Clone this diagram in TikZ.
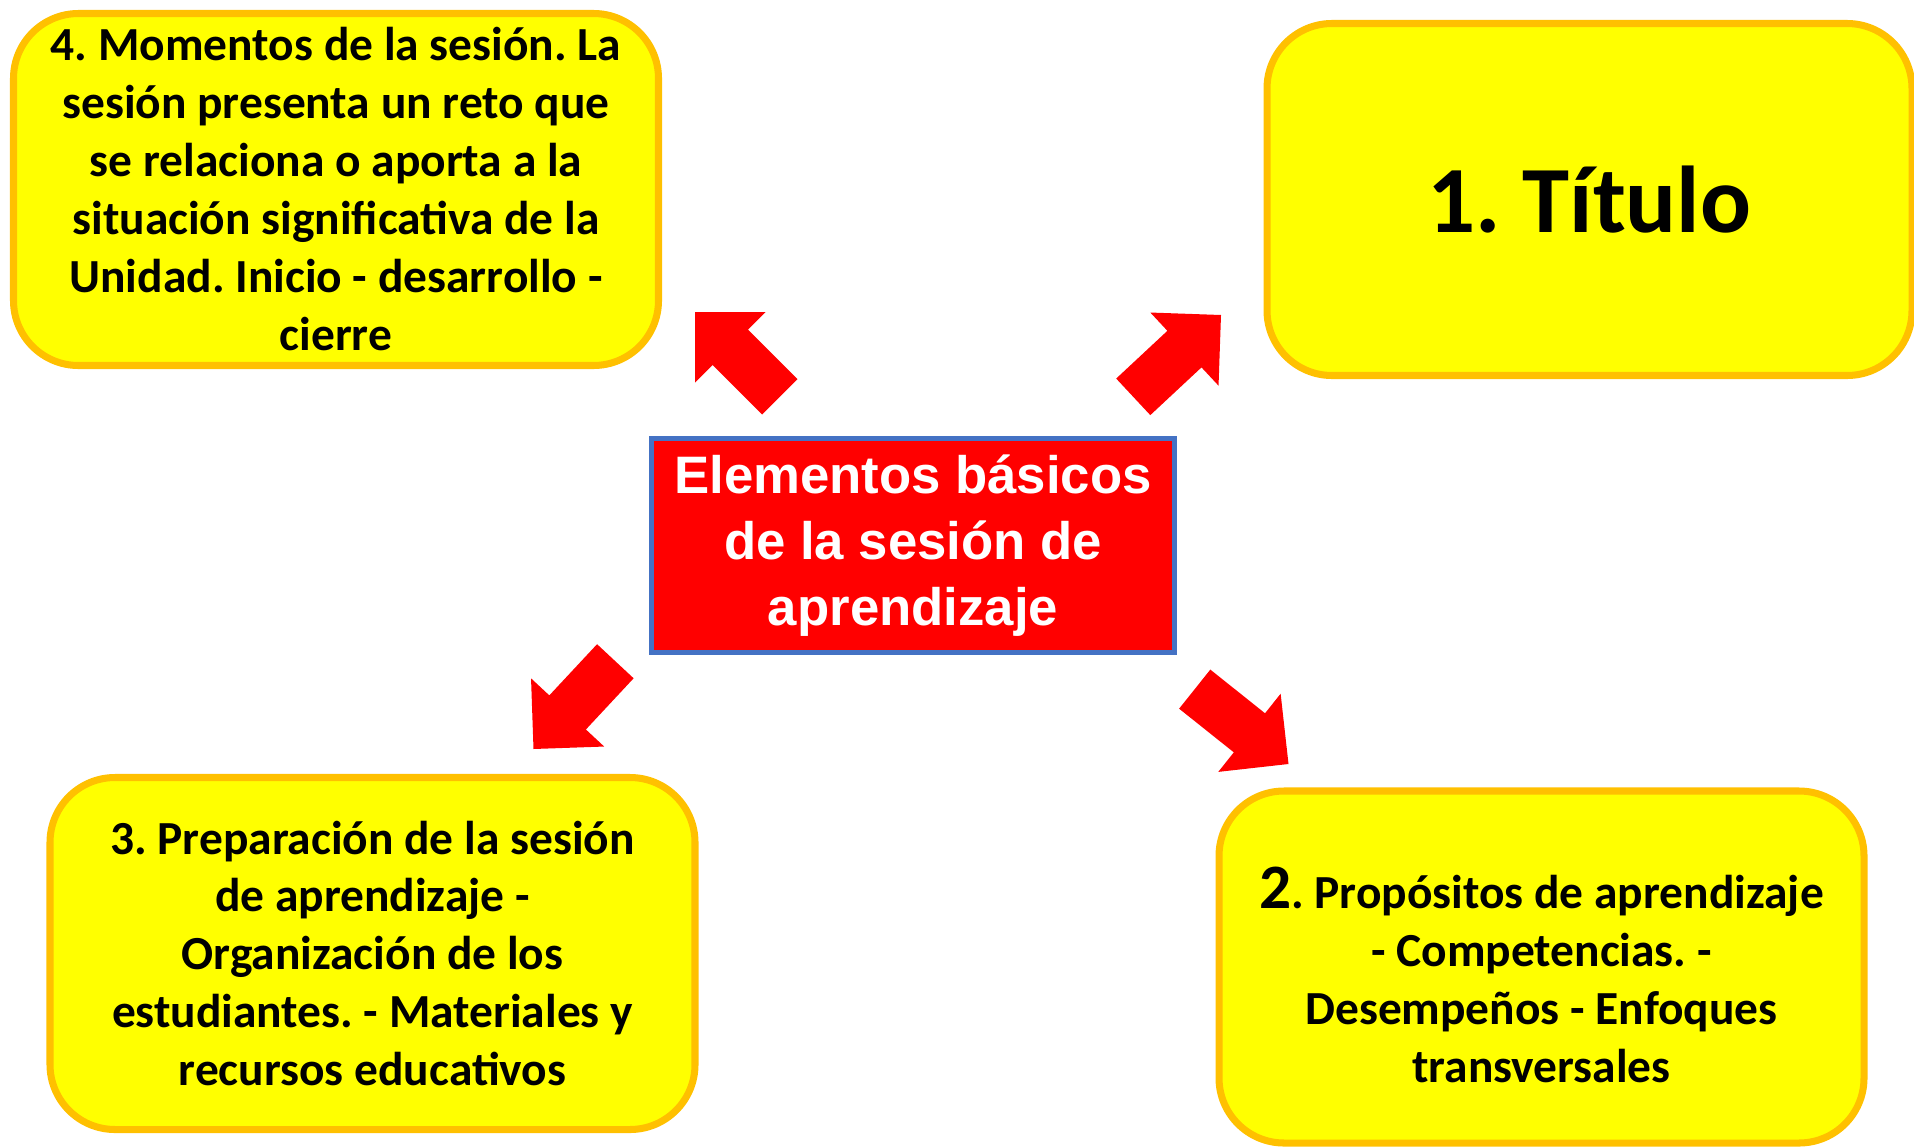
\documentclass[tikz,border=0pt]{standalone}
\usepackage{fontspec}
\setmainfont{Carlito}
\newfontfamily\arialfont{Liberation Sans}
\usetikzlibrary{positioning}
\definecolor{boxyellow}{HTML}{FFFF00}
\definecolor{boxorange}{HTML}{FFC000}
\definecolor{arrowred}{HTML}{FF0000}
\definecolor{frameblue}{HTML}{4472C4}
\frenchspacing

\begin{document}
\begin{tikzpicture}[
  item/.style={draw=boxorange, line width=2pt, fill=boxyellow, rounded corners=0.65cm,
    align=center, font=\fontsize{13.5}{16.5}\selectfont\bfseries,
    minimum width=6.45cm, minimum height=3.52cm, inner sep=0pt},
  centre/.style={draw=frameblue, line width=1.4pt, fill=arrowred, text=white, align=center,
    font=\arialfont\fontsize{15}{18.7}\selectfont\bfseries,
    minimum width=5.23cm, minimum height=2.14cm, inner sep=0pt},
  bigarrow/.pic={\fill[arrowred] (0,0) -- (-0.5,0.5) -- (-0.5,0.25) -- (-1.2,0.25)
    -- (-1.2,-0.25) -- (-0.5,-0.25) -- (-0.5,-0.5) -- cycle;}
]
  \useasboundingbox (0,0) rectangle (19.14,-11.46);

  % Draw the centre box
  \node[centre] (elementos) at (9.13,-5.455) {Elementos básicos\\de la sesión de\\aprendizaje};

  % Draw the four yellow boxes
  \node[item] (momentos) at (3.36,-1.895) {4. Momentos de la sesión. La\\sesión presenta un reto que\\se relaciona o aporta a la\\situación significativa de la\\Unidad. Inicio - desarrollo -\\cierre};
  \node[item, font=\fontsize{27}{32}\selectfont\bfseries] (titulo) at (15.895,-1.995) {1. Título};
  \node[item] (preparacion) at (3.725,-9.535) {3. Preparación de la sesión\\de aprendizaje -\\Organización de los\\estudiantes. - Materiales y\\recursos educativos};
  \node[item] (propositos) at (15.415,-9.67) {\rule{0pt}{0.58cm}{\fontsize{18}{16.5}\selectfont 2}. Propósitos de aprendizaje\\- Competencias. -\\Desempeños - Enfoques\\transversales};

  % Draw the red block arrows
  \coordinate (tipmomentos) at (6.95,-3.12);
  \coordinate (tiptitulo) at (12.21,-3.15);
  \coordinate (tippreparacion) at (5.335,-7.49);
  \coordinate (tippropositos) at (12.885,-7.64);
  \pic[rotate=135] at (tipmomentos) {bigarrow};
  \pic[rotate=43] at (tiptitulo) {bigarrow};
  \pic[rotate=227] at (tippreparacion) {bigarrow};
  \pic[rotate=-38.6] at (tippropositos) {bigarrow};
\end{tikzpicture}
\end{document}
